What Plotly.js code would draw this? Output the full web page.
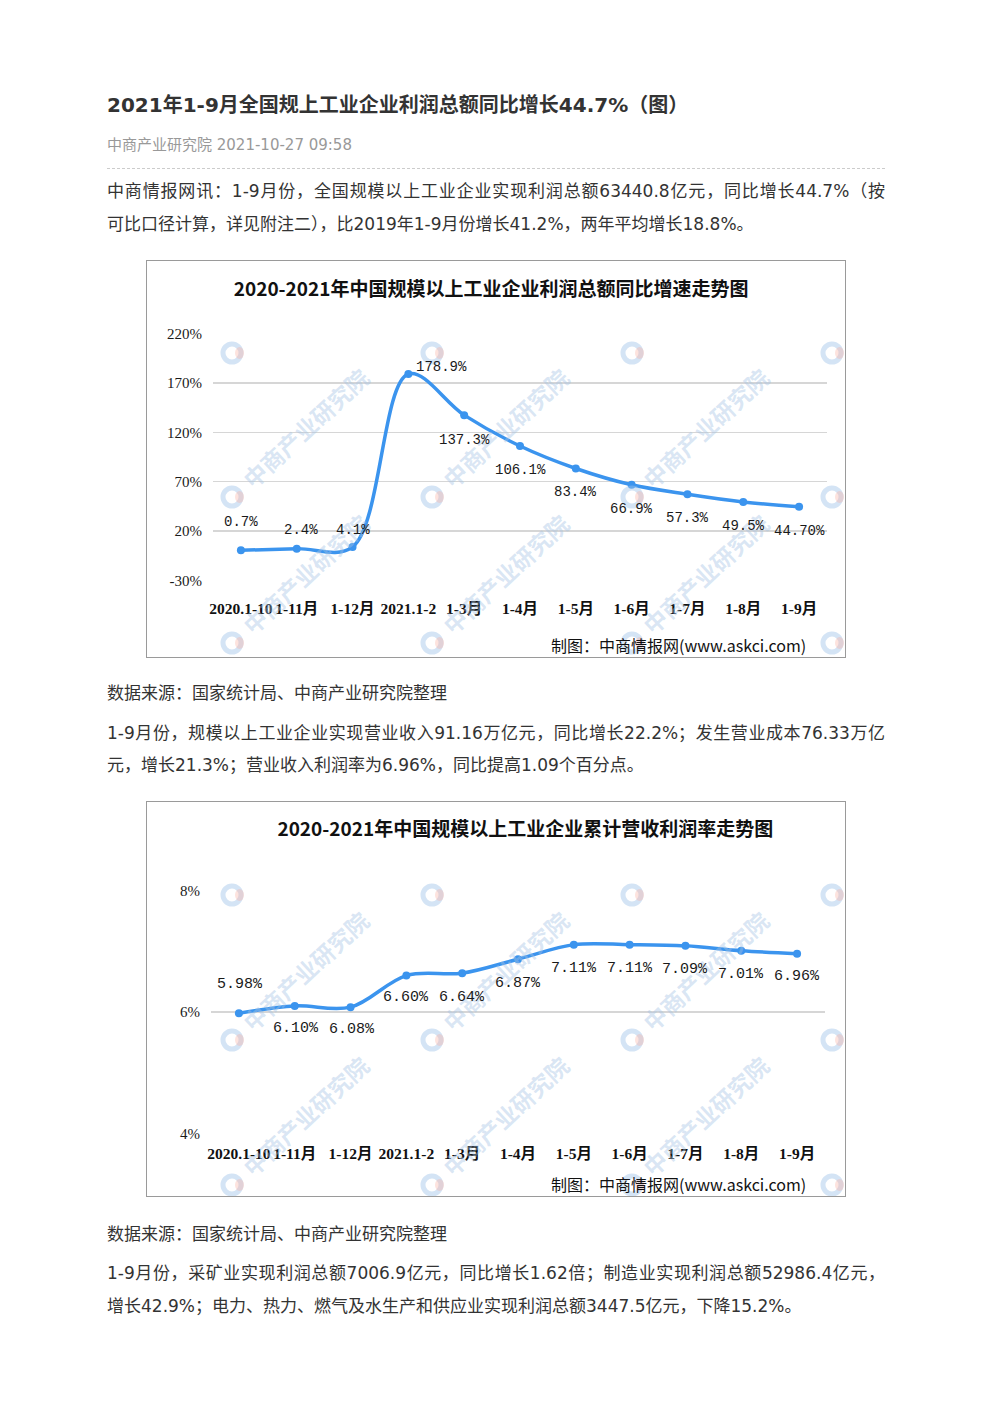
<!DOCTYPE html>
<html><head><meta charset="utf-8">
<script src="https://cdn.plot.ly/plotly-3.0.1.min.js"></script>
<style>
body{margin:0;background:#fff;width:992px;height:1403px;position:relative;overflow:hidden;font-family:"DejaVu Sans","Noto Sans CJK SC",sans-serif;color:#333;}
.t{position:absolute;left:107px;white-space:nowrap;}
.h1{top:91px;font-size:20px;font-weight:bold;line-height:28px;color:#333;}
.meta{top:135px;font-size:15px;line-height:20px;color:#999;}
.rule{position:absolute;left:107px;width:778px;top:168px;border-top:1px dashed #ccc;}
.p{font-size:17px;line-height:33px;width:778px;}
.j{text-align:justify;text-align-last:justify;}
.box{position:absolute;left:146px;width:700px;border:1px solid #9a9a9a;box-sizing:border-box;overflow:hidden;background:#fff;}
.plot{width:698px;}
</style></head>
<body>
<div class="t h1">2021年1-9月全国规上工业企业利润总额同比增长44.7%（图）</div>
<div class="t meta">中商产业研究院 2021-10-27 09:58</div>
<div class="rule"></div>
<div class="t p j" style="top:174.5px">中商情报网讯：1-9月份，全国规模以上工业企业实现利润总额63440.8亿元，同比增长44.7%（按</div>
<div class="t p" style="top:207.5px">可比口径计算，详见附注二），比2019年1-9月份增长41.2%，两年平均增长18.8%。</div>

<div class="box" style="top:260px;height:398px;"><div id="chart1" class="plot" style="height:396px"></div></div>

<div class="t p" style="top:676.5px">数据来源：国家统计局、中商产业研究院整理</div>
<div class="t p j" style="top:716.5px">1-9月份，规模以上工业企业实现营业收入91.16万亿元，同比增长22.2%；发生营业成本76.33万亿</div>
<div class="t p" style="top:748.5px">元，增长21.3%；营业收入利润率为6.96%，同比提高1.09个百分点。</div>

<div class="box" style="top:801px;height:396px;"><div id="chart2" class="plot" style="height:394px"></div></div>

<div class="t p" style="top:1217.5px">数据来源：国家统计局、中商产业研究院整理</div>
<div class="t p j" style="top:1256.5px">1-9月份，采矿业实现利润总额7006.9亿元，同比增长1.62倍；制造业实现利润总额52986.4亿元，</div>
<div class="t p" style="top:1289.5px">增长42.9%；电力、热力、燃气及水生产和供应业实现利润总额3447.5亿元，下降15.2%。</div>

<script>
// ---------- data ----------
const categories = ['2020.1-10','1-11月','1-12月','2021.1-2','1-3月','1-4月','1-5月','1-6月','1-7月','1-8月','1-9月'];
const profitGrowth = [0.7, 2.4, 4.1, 178.9, 137.3, 106.1, 83.4, 66.9, 57.3, 49.5, 44.7];
const profitGrowthText = ['0.7%','2.4%','4.1%','178.9%','137.3%','106.1%','83.4%','66.9%','57.3%','49.5%','44.70%'];
const growthTicks = [-30, 20, 70, 120, 170, 220];
const growthTickText = ['-30%','20%','70%','120%','170%','220%'];

const marginRate = [5.98, 6.10, 6.08, 6.60, 6.64, 6.87, 7.11, 7.11, 7.09, 7.01, 6.96];
const marginText = ['5.98%','6.10%','6.08%','6.60%','6.64%','6.87%','7.11%','7.11%','7.09%','7.01%','6.96%'];
const marginTicks = [4, 6, 8];
const marginTickText = ['4%','6%','8%'];

const title1 = '2020-2021年中国规模以上工业企业利润总额同比增速走势图';
const title2 = '2020-2021年中国规模以上工业企业累计营收利润率走势图';
const credit = '制图：中商情报网(www.askci.com)';
const watermark = '中商产业研究院';

// ---------- styles ----------
const LINE = '#3b94ee';
const growthShift = [[0,28],[4,19],[0,17],[33,7],[0,-25],[0,-24],[0,-24],[0,-24],[0,-24],[0,-24],[0,-24]];
const marginShift = [[1,29],[1,-23],[1,-22],[0,-22],[0,-24],[0,-24],[0,-24],[0,-24],[0,-24],[0,-24],[0,-23]];

function toPaper(px, py, m, W, H){
  return {x:(px-m.l)/(W-m.l-m.r), y:1-(py-m.t)/(H-m.t-m.b)};
}

function build(id, cfg){
  const W = 698, H = cfg.H, m = cfg.margin;
  const anns = [];
  const shapes = [];
  // watermarks (logo ring + diagonal text)
  const LX = [85, 285, 485, 685];
  cfg.LY.forEach(ly => LX.forEach(lx => {
    const p = toPaper(lx, ly, m, W, H);
    shapes.push({type:'circle', xref:'paper', yref:'paper', xsizemode:'pixel', ysizemode:'pixel',
      xanchor:p.x, yanchor:p.y, x0:-9, x1:9, y0:-9, y1:9, line:{color:'rgba(160,195,232,0.45)', width:5}, layer:'above'});
    shapes.push({type:'circle', xref:'paper', yref:'paper', xsizemode:'pixel', ysizemode:'pixel',
      xanchor:p.x, yanchor:p.y, x0:3, x1:12, y0:-6, y1:6, fillcolor:'rgba(250,175,160,0.35)', line:{width:0}, layer:'above'});
    if (lx + 73 + 62 > W || ly - 69 - 60 < 0) return;
    const c = toPaper(lx+73, ly-69, m, W, H);
    anns.push({xref:'paper', yref:'paper', x:c.x, y:c.y, xanchor:'center', yanchor:'middle', text:watermark, showarrow:false,
      textangle:-43, font:{family:'Noto Sans CJK SC', size:23, color:'rgba(165,195,228,0.42)', weight:'bold'}});
  }));
  // data labels
  cfg.values.forEach((v, i) => {
    anns.push({x:categories[i], y:v, xref:'x', yref:'y', text:cfg.text[i], showarrow:false,
      xshift:cfg.shift[i][0], yshift:cfg.shift[i][1],
      font:{family:'Liberation Mono, monospace', size:cfg.labelSize, color:'#1a1a1a'}});
  });
  // credit
  const cr = toPaper(661, cfg.creditY, m, W, H);
  anns.push({xref:'paper', yref:'paper', x:cr.x, y:cr.y, xanchor:'right', yanchor:'middle', showarrow:false,
    text:credit, font:{family:'Noto Sans CJK SC', size:16, color:'#111'}});

  const trace = {x:categories, y:cfg.values, type:'scatter', mode:'lines+markers', cliponaxis:false,
    line:{color:LINE, width:3.5, shape:'spline', smoothing:1}, marker:{size:8, color:LINE}, hoverinfo:'skip'};
  const layout = {
    width:W, height:H, margin:m, paper_bgcolor:'#fff', plot_bgcolor:'#fff', showlegend:false,
    title:{text:cfg.title, x:cfg.titleX, xref:'container', xanchor:'center', y:cfg.titleY, yref:'container', yanchor:'middle',
      font:{family:'Noto Sans CJK SC', size:19, color:'#111', weight:'bold'}},
    xaxis:{type:'category', range:[-0.5,10.5], showgrid:false, zeroline:false, showline:false, ticks:'', tickangle:0,
      ticklabelstandoff:cfg.xStandoff, tickfont:{family:'Liberation Serif, Noto Sans CJK SC', size:15.5, color:'#111', weight:'bold'}},
    yaxis:{range:cfg.range, tickvals:cfg.ticks, ticktext:cfg.tickText, showgrid:true, gridcolor:'#d6d6d6', gridwidth:1.5,
      zeroline:false, showline:false, ticks:'', ticklabelstandoff:10,
      tickfont:{family:'Liberation Serif, serif', size:15, color:'#1a1a1a'}},
    annotations:anns, shapes:shapes
  };
  Plotly.newPlot(id, [trace], layout, {staticPlot:true, displayModeBar:false});
}

build('chart1', {H:396, margin:{l:66, r:18, t:72, b:76}, values:profitGrowth, text:profitGrowthText,
  shift:growthShift, labelSize:14, ticks:growthTicks, tickText:growthTickText, range:[-30.3, 220.3],
  title:title1, titleX:0.493, titleY:0.929, xStandoff:16, LY:[92, 236, 382], creditY:384});

build('chart2', {H:394, margin:{l:64, r:20, t:88, b:62}, values:marginRate, text:marginText,
  shift:marginShift, labelSize:15, ticks:marginTicks, tickText:marginTickText, range:[3.99, 8.01],
  title:title2, titleX:0.542, titleY:0.931, xStandoff:8, LY:[93, 238, 383], creditY:382});
</script>
</body></html>
